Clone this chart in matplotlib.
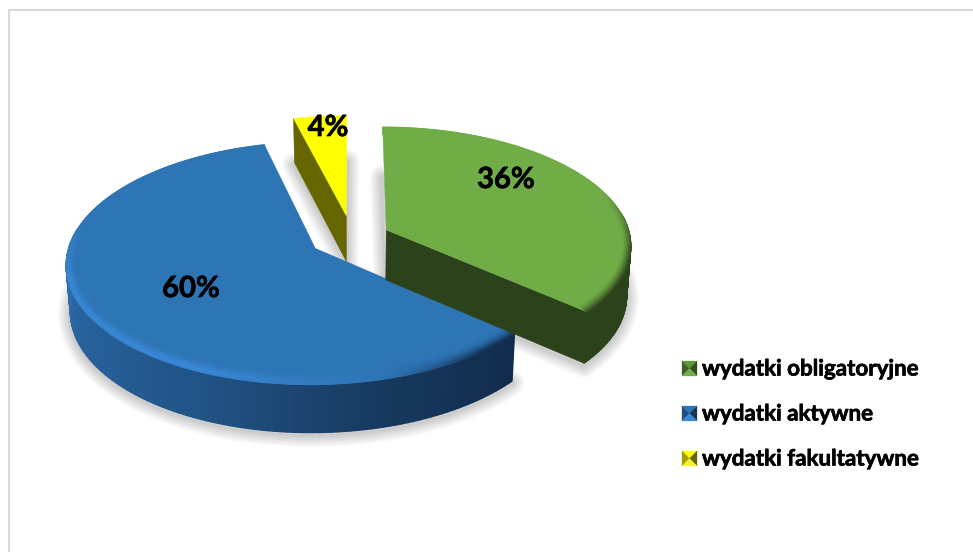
import numpy as np
import matplotlib
matplotlib.use("Agg")
import matplotlib.pyplot as plt
import matplotlib.patheffects as pe
from matplotlib.collections import PolyCollection
from matplotlib.colors import to_rgb

categories = ["wydatki obligatoryjne", "wydatki aktywne", "wydatki fakultatywne"]
shares = [36.4, 59.6, 4.0]
percent_labels = ["36%", "60%", "4%"]

top_colors = ["#70ad47", "#2e75b6", "#ffff00"]
inner_wall = ["#2c421b", "#12294a", "#666600"]
explode = [38.0, 42.6, 47.0]
depths = [50.0, 46.0, 46.0]
label_pos = [(506, 180), (191, 289), (328, 128)]

CX, CY, R, K, Q = 352.0, 237.5, 244.0, 0.4795, 0.000494
fig = plt.figure(figsize=(9.73, 5.52), dpi=100)
ax = fig.add_axes([0, 0, 1, 1])
ax.set_xlim(0, 973)
ax.set_ylim(552, 0)
ax.axis("off")


def rgb(c):
    return np.array(to_rgb(c))


def project(wx, wy, z=0.0, depth=46.0):
    wx, wy = np.asarray(wx, float), np.asarray(wy, float)
    f = 1.0 / (1.0 + Q * wy)
    shrink = 1 - 0.015 * z
    return CX + wx * f * shrink, CY - K * wy * f + depth * z * f ** 0.3


edges = np.concatenate([[0.0], np.cumsum(shares)]) * 3.6
slices = []
for i, v in enumerate(shares):
    a0, a1 = edges[i], edges[i + 1]
    mid = np.radians((a0 + a1) / 2)
    ox, oy = explode[i] * np.sin(mid), explode[i] * np.cos(mid)
    phi = np.radians(np.linspace(a0, a1, 160))
    slices.append(dict(a0=a0, a1=a1, ox=ox, oy=oy, phi=phi, depth=depths[i]))


def outline(s, z=0.0):
    wx = np.r_[s["ox"], s["ox"] + R * np.sin(s["phi"])]
    wy = np.r_[s["oy"], s["oy"] + R * np.cos(s["phi"])]
    return np.column_stack(project(wx, wy, z, s["depth"]))


# soft shadows of the bottom faces
for s in slices:
    poly = outline(s, 1.0) + np.array([0, 2])
    for lw in np.arange(18, 1, -2.0):
        ax.fill(poly[:, 0], poly[:, 1], fc="none", ec=(0, 0, 0, 0.022), lw=lw,
                joinstyle="round", zorder=1)
    ax.fill(poly[:, 0], poly[:, 1], fc="#d0d0d0", ec="none", zorder=1)


def wall_color(i, deg):
    if i == 1:
        stops = [131, 165, 205, 270, 346]
        cols = np.array([rgb(c) for c in ["#112b4c", "#17395f", "#215488", "#2d6dab", "#2d6dab"]])
        return np.array([np.interp(deg, stops, cols[:, j]) for j in range(3)])
    return rgb(inner_wall[i])


def rim_strips(i, s):
    top = rgb(top_colors[i])
    hi = rgb("#3a89d8")
    dark = rgb("#2c421b") if i == 0 else rgb("#112b4c")
    polys, cols = [], []
    bands = np.linspace(0, 1, 9)
    phi = s["phi"]
    for b0, b1 in zip(bands[:-1], bands[1:]):
        sm = (b0 + b1) / 2
        for p0, p1 in zip(phi[:-1], phi[1:]):
            pm = (p0 + p1) / 2
            deg = np.degrees(pm)
            if i == 1:
                hw = np.clip((deg - 165) / 40, 0, 1) * np.clip((285 - deg) / 30, 0, 1)
                dw = np.clip((165 - deg) / 25, 0, 1)
            elif i == 0:
                hw = 0.0
                dw = np.clip((deg - 70) / 30, 0, 1)
            else:
                continue
            tri = max(0.0, 1 - abs(sm - 0.25) / 0.75)
            c = top + hw * tri * (hi - top) + dw * (1 - sm) ** 1.4 * (dark - top)
            q = []
            for pp, ss in ((p0, b0), (p1, b0), (p1, b1), (p0, b1)):
                wx = s["ox"] + (R - ss * 9) * np.sin(pp)
                wy = s["oy"] + (R - ss * 20) * np.cos(pp)
                q.append(project(wx, wy))
            polys.append(q)
            cols.append(np.clip(c, 0, 1))
    return polys, cols


for i in [2, 0, 1]:
    s = slices[i]
    dp = s["depth"]
    z0 = 2 + [2, 0, 4][i]
    # the radial side face that looks towards the viewer
    visible = {0: [s["phi"][-1]], 1: [], 2: [s["phi"][0]]}[i]
    for ang in visible:
        ex, ey = s["ox"] + R * np.sin(ang), s["oy"] + R * np.cos(ang)
        a = project(s["ox"], s["oy"], 0, dp)
        b = project(ex, ey, 0, dp)
        c = project(ex, ey, 1.0, dp)
        d = project(s["ox"], s["oy"], 1.0, dp)
        ax.fill([a[0], b[0], c[0], d[0]], [a[1], b[1], c[1], d[1]],
                fc=inner_wall[i], ec=inner_wall[i], lw=0.4, zorder=z0)
    # curved outer wall
    if i != 2:
        polys, cols = [], []
        for p0, p1 in zip(s["phi"][:-1], s["phi"][1:]):
            x0, y0 = s["ox"] + R * np.sin(p0), s["oy"] + R * np.cos(p0)
            x1, y1 = s["ox"] + R * np.sin(p1), s["oy"] + R * np.cos(p1)
            polys.append([project(x0, y0, 0, dp), project(x1, y1, 0, dp),
                          project(x1, y1, 1.0, dp), project(x0, y0, 1.0, dp)])
            cols.append(wall_color(i, np.degrees((p0 + p1) / 2)))
        # only the part facing the viewer shows
        keep = [k for k, p in enumerate(s["phi"][:-1]) if np.cos(p) < 0.15]
        ax.add_collection(PolyCollection([polys[k] for k in keep], facecolors=[cols[k] for k in keep],
                                         edgecolors=[cols[k] for k in keep], linewidths=1.0, zorder=z0))
    # top face
    poly = outline(s)
    ax.fill(poly[:, 0], poly[:, 1], fc=top_colors[i], ec=top_colors[i], lw=0.3, zorder=z0 + 0.1)
    polys, cols = rim_strips(i, s)
    if polys:
        ax.add_collection(PolyCollection(polys, facecolors=cols, edgecolors=cols, linewidths=0.8, zorder=z0 + 0.2))

FONT = "Lato"
bold = [pe.withStroke(linewidth=0.5, foreground="black")]
for txt, (x, y) in zip(percent_labels, label_pos):
    ax.text(x, y, txt, ha="center", va="center", fontsize=21, fontweight="bold",
            family=FONT, color="black", zorder=20, path_effects=bold)

# legend
marker_shades = [
    ("#5f9a3c", "#3f6029", "#33501f", "#70ad47"),
    ("#2e75b6", "#1f4f80", "#163657", "#3a87d4"),
    ("#ffff00", "#a0a000", "#666600", "#f2f230"),
]
leg_y = [368.5, 413.5, 458.5]
for name, y, (t, l, r, b) in zip(categories, leg_y, marker_shades):
    x0, x1, y0, y1 = 682, 697, y - 7.5, y + 7.5
    xm, ym = (x0 + x1) / 2, y
    ax.fill([x0, x1, xm], [y0, y0, ym], fc=t, ec=t, lw=0.2, zorder=10)
    ax.fill([x0, x0, xm], [y0, y1, ym], fc=l, ec=l, lw=0.2, zorder=10)
    ax.fill([x1, x1, xm], [y0, y1, ym], fc=r, ec=r, lw=0.2, zorder=10)
    ax.fill([x0, x1, xm], [y1, y1, ym], fc=b, ec=b, lw=0.2, zorder=10)
    ax.text(702, y + 0.5, name, ha="left", va="center", fontsize=16.1, fontweight="bold",
            family=FONT, color="black", zorder=20, path_effects=bold)

# chart frame
ax.plot([9, 9, 973], [552, 10, 10], color="#d9d9d9", lw=1.5, zorder=0, solid_joinstyle="miter")

fig.savefig("out.png", dpi=100, facecolor="white")
